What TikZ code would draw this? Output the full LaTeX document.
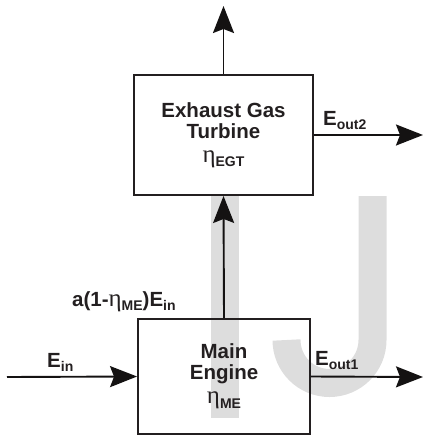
\documentclass[tikz,border=0pt]{standalone}
\usepackage{fontspec}
\setmainfont{Liberation Sans}
\newfontfamily\etafont{Liberation Serif}
\usetikzlibrary{arrows.meta}
\newcommand{\lowtxt}[1]{\raisebox{-0.4ex}{\fontsize{14pt}{14pt}\selectfont #1}}
\newcommand{\etasym}{{\etafont\mdseries\fontsize{25pt}{25pt}\selectfont η}}

\begin{document}
\begin{tikzpicture}[x=1pt,y=-1pt]
	\tikzstyle{every node}=[font=\fontsize{20.5pt}{21pt}\selectfont\bfseries, text={rgb,255:red,35; green,31; blue,32}]
	\tikzstyle{blockbox}=[draw={rgb,255:red,35; green,31; blue,32}, line width=1.9pt, align=center, inner sep=0pt]
	\tikzstyle{flow}=[draw={rgb,255:red,20; green,18; blue,18}, line width=1.9pt, -{Stealth[length=27pt,width=21pt,inset=4pt]}]
	\tikzstyle{wmark}=[color={rgb,255:red,221; green,221; blue,221}]
	\tikzstyle{lbl}=[anchor=base west, inner sep=0pt]
	
	\useasboundingbox (0,0) rectangle (424,436);
	
	% watermark
	\fill[wmark] (211,196) rectangle (239,418);
	\draw[wmark, line width=28pt] (372.5,196) -- (372.5,340) arc[start angle=0, end angle=180, radius=43];
	
	% blocks
	\node[blockbox, minimum width=179pt, minimum height=120pt] (egt) at (223.5,135) {Exhaust Gas\\Turbine\\[3pt]\etasym\lowtxt{EGT}};
	\node[blockbox, minimum width=172pt, minimum height=115pt] (me) at (224,376.5) {Main\\Engine\\[3pt]\etasym\lowtxt{ME}};
	
	\coordinate (exhaust) at (223.5,6);
	\coordinate (fuel) at (7,377);
	\coordinate (work1) at (423,377);
	\coordinate (work2) at (423,135);
	
	% flows
	\draw[flow] (egt.north) -- (exhaust);
	\draw[flow] (me.north) -- (egt.south);
	\draw[flow] (fuel) -- (me.west);
	\draw[flow] (me.east) -- (work1);
	\draw[flow] (egt.east) -- (work2);
	
	% labels
	\node[lbl] (inlbl) at (47,367) {E\lowtxt{in}};
	\node[lbl] (out1lbl) at (315,365) {E\lowtxt{out1}};
	\node[lbl] (out2lbl) at (323,125) {E\lowtxt{out2}};
	\node[lbl] (losslbl) at (72,306) {a(1-\etasym\lowtxt{ME})E\lowtxt{in}};
	
\end{tikzpicture}
\end{document}
